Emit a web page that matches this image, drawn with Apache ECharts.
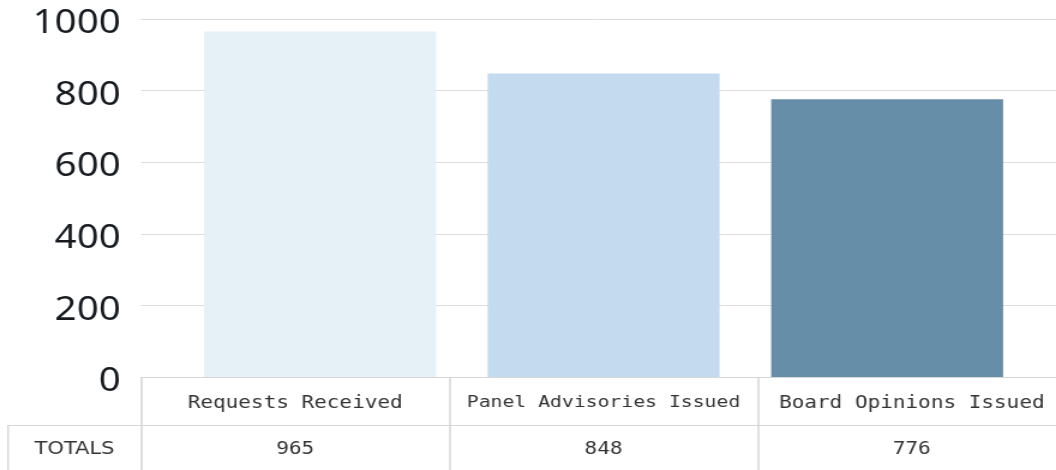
<!DOCTYPE html>
<html>
<head>
<meta charset="utf-8">
<script src="https://cdn.jsdelivr.net/npm/echarts@6/dist/echarts.min.js"></script>
<style>
  html, body { margin: 0; padding: 0; background: #fff; overflow: hidden; }
  #chart { width: 880px; height: 470px; transform: scaleX(1.2); transform-origin: 0 0; }
</style>
</head>
<body>
<div id="chart"></div>
<script>
const categories = ['Requests Received', 'Panel Advisories Issued', 'Board Opinions Issued'];
const values = [965, 848, 776];
const barColors = ['#e6f0f7', '#c3daef', '#678ea9'];
const rowLabel = 'TOTALS';
const yTicks = { min: 0, max: 1000, interval: 200 };

const chart = echarts.init(document.getElementById('chart'), null, { renderer: 'canvas' });
const border = '#d6d6d6';
const monoFont = '"DejaVu Sans Mono", monospace';
const headSize = 17.5;
const maxHeadWidth = 228; // header text is shrunk to fit inside its cell

// per-label font size so long headers fit in their cell
const ctx = document.createElement('canvas').getContext('2d');
ctx.font = headSize + 'px ' + monoFont;
const headRich = {};
categories.forEach((c, i) => {
  const w = ctx.measureText(c).width;
  headRich['h' + i] = { fontFamily: monoFont, color: '#333',
    fontSize: w > maxHeadWidth ? headSize * maxHeadWidth / w : headSize };
});

const option = {
  animation: false,
  grid: [
    { left: 117.5, width: 770.8, top: 19, bottom: 93, outerBoundsMode: 'none', containLabel: false },
    { left: 148.6, right: 22.6, top: 19, bottom: 93, outerBoundsMode: 'none', containLabel: false }
  ],
  xAxis: [
    {
      gridIndex: 0, type: 'category', data: categories, position: 'bottom',
      axisLine: { show: true, lineStyle: { color: border, width: 1 } },
      axisTick: { show: true, interval: 0, length: 48, lineStyle: { color: border, width: 1.5 } },
      axisLabel: { show: true, interval: 0, hideOverlap: false, margin: 26, verticalAlign: 'middle',
        fontFamily: monoFont, fontSize: headSize, color: '#333',
        formatter: (v, i) => '{h' + i + '|' + v + '}', rich: headRich },
      splitLine: { show: false }
    },
    {
      gridIndex: 0, type: 'category', data: categories, position: 'bottom', offset: 48,
      axisLine: { show: true, lineStyle: { color: border, width: 1 } },
      axisTick: { show: true, interval: 0, length: 50, lineStyle: { color: border, width: 1.5 } },
      axisLabel: { show: true, interval: 0, margin: 24, verticalAlign: 'middle', fontFamily: monoFont, fontSize: 17.5, color: '#333',
        formatter: (v, i) => String(values[i]) },
      splitLine: { show: false }
    },
    {
      gridIndex: 1, type: 'category', data: categories,
      show: false
    }
  ],
  yAxis: [
    {
      gridIndex: 0, type: 'value', min: yTicks.min, max: yTicks.max, interval: yTicks.interval,
      axisLine: { show: false }, axisTick: { show: false },
      axisLabel: { margin: 17, verticalAlign: 'top', lineHeight: 10, fontFamily: '"Noto Sans", sans-serif', fontSize: 32, color: '#161a1f',
        formatter: v => String(v) },
      splitLine: { show: true, lineStyle: { color: '#dcdcdc', width: 1 } }
    },
    {
      gridIndex: 1, type: 'value', min: yTicks.min, max: yTicks.max, interval: yTicks.interval,
      show: false, splitLine: { show: false }
    }
  ],
  series: [
    {
      type: 'bar', xAxisIndex: 2, yAxisIndex: 1,
      barWidth: '81.8%',
      data: values.map((v, i) => ({ value: v, itemStyle: { color: barColors[i] } }))
    }
  ]
};
chart.setOption(option);

// TOTALS row header cell, positioned from the axis scales
const rowTop = chart.convertToPixel({ yAxisIndex: 0 }, 0) + 48;
const tableLeft = chart.convertToPixel({ xAxisIndex: 0 }, 0) - (chart.convertToPixel({ xAxisIndex: 0 }, 1) - chart.convertToPixel({ xAxisIndex: 0 }, 0)) / 2;
const cellLeft = 6.7;
chart.setOption({
  graphic: [
    { type: 'line', shape: { x1: cellLeft, y1: rowTop + 0.5, x2: tableLeft, y2: rowTop + 0.5 }, style: { stroke: border, lineWidth: 1 } },
    { type: 'line', shape: { x1: cellLeft, y1: rowTop, x2: cellLeft, y2: 480 }, style: { stroke: border, lineWidth: 1.5 } },
    { type: 'text', x: (cellLeft + tableLeft) / 2, y: rowTop + 24,
      style: { text: rowLabel, fill: '#333', font: '17.5px "DejaVu Sans", sans-serif', align: 'center', verticalAlign: 'middle' } }
  ]
});
</script>
</body>
</html>
